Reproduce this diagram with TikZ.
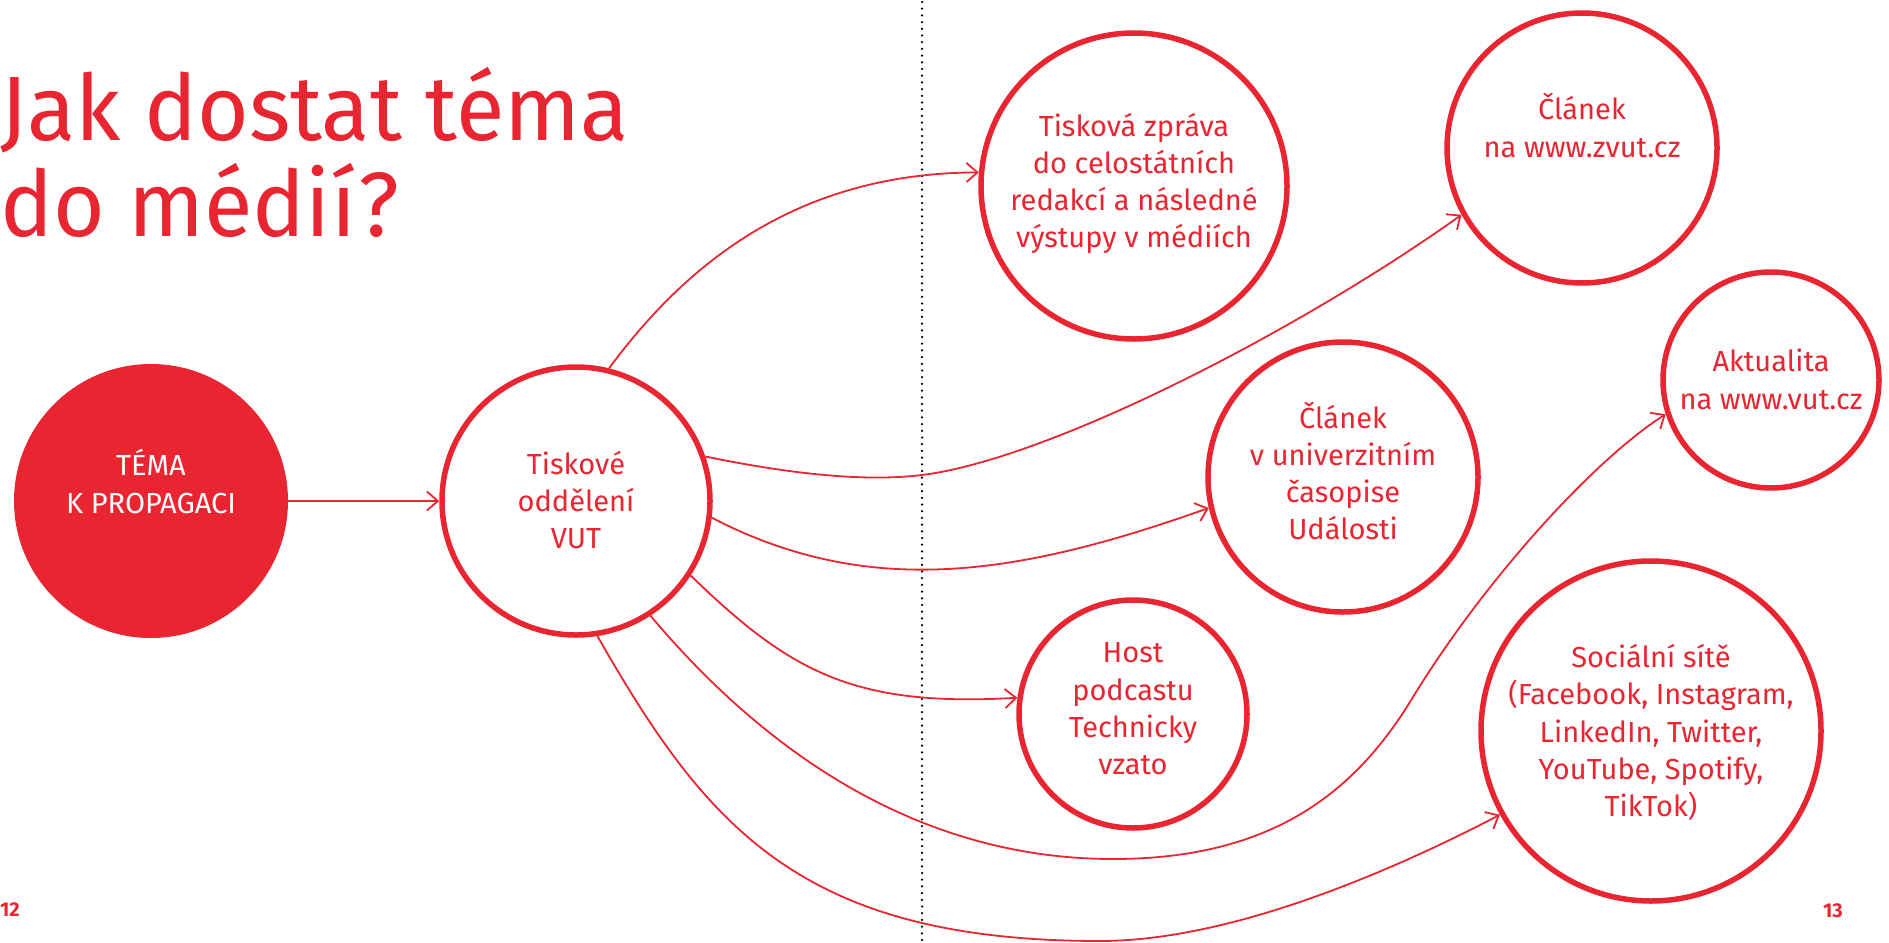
\documentclass[tikz,border=0pt]{standalone}
\usepackage{fontspec}
\setmainfont{Fira Sans}
\newfontfamily\titlefont[FakeStretch=0.97]{Fira Sans}
\usetikzlibrary{arrows.meta}
\definecolor{vutred}{RGB}{232,37,48}
\begin{document}
\begin{tikzpicture}[x=1pt,y=-1pt,
  bubble/.style={circle, draw=vutred, line width=5.5pt, minimum size=#1, inner sep=0pt, outer sep=2.75pt},
  bigdot/.style={circle, fill=vutred, minimum size=#1, inner sep=0pt, outer sep=0pt},
  lbl/.style={text=vutred, align=center, inner sep=0pt, font=\fontsize{29pt}{37.3pt}\selectfont},
  wlbl/.style={lbl, text=white},
  ttl/.style={text=vutred, anchor=base west, inner sep=0pt, font=\titlefont\fontsize{91.4pt}{96pt}\selectfont},
  pagenum/.style={text=vutred, inner sep=0pt, font=\fontsize{20pt}{20pt}\selectfont\bfseries},
  conn/.style={draw=vutred, line width=1.8pt, -{Straight Barb[length=11pt,width=19pt]}},
  dotline/.style={draw=black, line width=2.5pt, line cap=round, dash pattern=on 0pt off 6.7pt}
]
\fill[white] (0,0) rectangle (1889,942);
\useasboundingbox (0,0) rectangle (1889,942);

% divider
\draw[dotline] (922,2) -- (922,942);

% title
\node[ttl] (title1) at (0,140) {Jak dostat téma};
\node[ttl] (title2) at (0,236) {do médií?};

% circles
\node[bigdot=274pt] (tema) at (151,501) {};
\node[bubble=268pt] (vut) at (576,501) {};
\node[bubble=306pt] (zprava) at (1134,186) {};
\node[bubble=270pt] (zvut) at (1582,148) {};
\node[bubble=216pt] (aktualita) at (1771,380) {};
\node[bubble=270pt] (udalosti) at (1343,477) {};
\node[bubble=228pt] (host) at (1133,714) {};
\node[bubble=340pt] (social) at (1651,731) {};

% texts
\node[wlbl] (tematext) at (151,481.5) {TÉMA\\K PROPAGACI};
\node[lbl] (vuttext) at (576,500) {Tiskové\\oddělení\\VUT};
\node[lbl] (zpravatext) at (1134,183.5) {Tisková zpráva\\do celostátních\\redakcí a následné\\výstupy v médiích};
\node[lbl] (zvuttext) at (1582,125.5) {Článek\\na www.zvut.cz};
\node[lbl] (aktualitatext) at (1771,379.5) {Aktualita\\na www.vut.cz};
\node[lbl] (udalostitext) at (1343,471) {Článek\\v univerzitním\\časopise\\Události};
\node[lbl] (hosttext) at (1133,709) {Host\\podcastu\\Technicky\\vzato};
\node[lbl] (socialtext) at (1651,732.5) {Sociální sítě\\(Facebook, Instagram,\\LinkedIn, Twitter,\\YouTube, Spotify,\\TikTok)};

% page numbers
\node[pagenum, anchor=base west] (p12) at (0,916) {12};
\node[pagenum, anchor=base east] (p13) at (1843,917) {13};

% connectors
\draw[conn] (tema.east) -- (vut.west);
\draw[conn] (vut.76.5) .. controls (686,264) and (797,173) .. (zprava.175);
\draw[conn] (vut.19) .. controls (790,474) and (865,482) .. (922,475)
   .. controls (1050,459) and (1300,330) .. (zvut.209);
\draw[conn] (vut.-7) .. controls (870,600) and (1020,575) .. (udalosti.193);
\draw[conn] (vut.-33) .. controls (791,673) and (855,707) .. (host.172);
\draw[conn] (vut.-57) .. controls (760,746) and (913,859) .. (1113,859)
   .. controls (1273,859) and (1356,791.5) .. (1413,697)
   .. controls (1486,578) and (1595,459) .. (aktualita.198);
\draw[conn] (vut.-81.5) .. controls (706,826) and (800,941) .. (1100,941)
   .. controls (1230,941) and (1390,872) .. (social.209.5);
\end{tikzpicture}
\end{document}
